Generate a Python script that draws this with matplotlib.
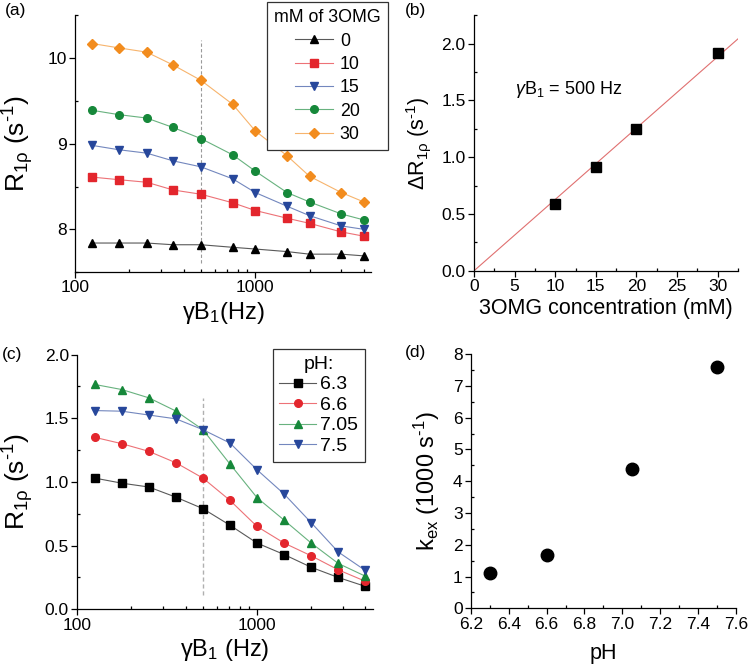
import matplotlib
matplotlib.use('Agg')
import matplotlib.pyplot as plt
from matplotlib.ticker import MultipleLocator, LogLocator, NullFormatter, FixedLocator, FixedFormatter
from matplotlib.colors import to_rgb
import numpy as np

plt.rcParams['font.family'] = ['Liberation Sans', 'DejaVu Sans']
plt.rcParams['mathtext.fontset'] = 'custom'
plt.rcParams['mathtext.rm'] = 'Liberation Sans'
plt.rcParams['mathtext.it'] = 'Liberation Sans:italic'
plt.rcParams['mathtext.default'] = 'regular'

# (a) R1rho vs spin-lock amplitude for several 3OMG concentrations
freq_a = [125, 175, 250, 350, 500, 750, 1000, 1500, 2000, 3000, 4000]
conc_labels = ['0', '10', '15', '20', '30']
r1rho_0 = [7.84, 7.84, 7.84, 7.82, 7.82, 7.79, 7.77, 7.74, 7.71, 7.71, 7.69]
r1rho_10 = [8.61, 8.58, 8.55, 8.46, 8.41, 8.31, 8.22, 8.13, 8.07, 7.97, 7.92]
r1rho_15 = [8.98, 8.93, 8.89, 8.80, 8.73, 8.59, 8.43, 8.27, 8.16, 8.04, 8.00]
r1rho_20 = [9.39, 9.34, 9.30, 9.19, 9.06, 8.87, 8.68, 8.43, 8.32, 8.18, 8.11]
r1rho_30 = [10.17, 10.12, 10.07, 9.92, 9.74, 9.46, 9.15, 8.86, 8.62, 8.43, 8.32]

# (b) delta R1rho at 500 Hz
conc_b = [10, 15, 20, 30]
delta_r1rho = [0.59, 0.91, 1.25, 1.92]

# (c) R1rho vs spin-lock amplitude for several pH
freq_c = [125, 177, 250, 354, 500, 707, 1000, 1414, 2000, 2828, 4000]
ph_labels = ['6.3', '6.6', '7.05', '7.5']
r1rho_ph63 = [1.03, 0.99, 0.96, 0.88, 0.79, 0.66, 0.52, 0.43, 0.33, 0.25, 0.18]
r1rho_ph66 = [1.35, 1.30, 1.24, 1.15, 1.03, 0.855, 0.65, 0.52, 0.42, 0.31, 0.22]
r1rho_ph705 = [1.765, 1.725, 1.66, 1.556, 1.41, 1.14, 0.876, 0.70, 0.52, 0.36, 0.26]
r1rho_ph75 = [1.56, 1.555, 1.525, 1.495, 1.41, 1.305, 1.095, 0.905, 0.68, 0.45, 0.305]

# (d) exchange rate vs pH
ph_d = [6.3, 6.6, 7.05, 7.5]
kex = [1.10, 1.68, 4.39, 7.60]

c_black = '#000000'
c_red = '#e3262d'
c_blue = '#27479b'
c_green = '#16883a'
c_orange = '#f28c1e'


def lighter(col, f=0.35):
    # blend a colour with white, used for the thin connecting lines
    r, g, b = to_rgb(col)
    return (r + (1 - r) * f, g + (1 - g) * f, b + (1 - b) * f)


def style_axes(ax):
    for s in ['top', 'right']:
        ax.spines[s].set_visible(False)
    for s in ['left', 'bottom']:
        ax.spines[s].set_linewidth(0.9)
    ax.tick_params(which='major', direction='out', length=4, width=0.9,
                   labelsize=12.5, pad=2)
    ax.tick_params(which='minor', direction='in', length=2.5, width=0.9)


def style_log_x(ax):
    ax.set_xscale('log')
    ax.set_xlim(100, 4400)
    ax.xaxis.set_major_locator(FixedLocator([100, 1000]))
    ax.xaxis.set_major_formatter(FixedFormatter(['100', '1000']))
    ax.xaxis.set_minor_locator(LogLocator(base=10, subs=np.arange(2, 10)))
    ax.xaxis.set_minor_formatter(NullFormatter())


fig = plt.figure(figsize=(7.5, 6.67), dpi=100)

ax_a = fig.add_axes([0.1, 0.592, 0.395, 0.385])
ax_b = fig.add_axes([0.632, 0.594, 0.352, 0.383])
ax_c = fig.add_axes([0.103, 0.0865, 0.394, 0.382])
ax_d = fig.add_axes([0.628, 0.088, 0.353, 0.381])

lw = 0.8
ms = 5.5
inv_s = r'(s$^{\text{-}1}$)'

# ---- (a)
series_a = [(r1rho_0, c_black, '^'), (r1rho_10, c_red, 's'), (r1rho_15, c_blue, 'v'),
            (r1rho_20, c_green, 'o'), (r1rho_30, c_orange, 'D')]
ax_a.vlines(500, 7.61, 10.21, colors='#9a9a9a', linestyles=(0, (3, 2)), lw=0.8)
for (vals, col, mk), lab in zip(series_a, conc_labels):
    ax_a.plot(freq_a, vals, color=lighter(col), lw=lw, marker=mk,
              ms=ms if mk != 'D' else 5, mfc=col, mec=col, label=lab)
style_log_x(ax_a)
ax_a.set_ylim(7.5, 10.5)
ax_a.yaxis.set_major_locator(MultipleLocator(1))
ax_a.yaxis.set_minor_locator(MultipleLocator(0.5))
style_axes(ax_a)
ax_a.set_xlabel('γB$_1$(Hz)', fontsize=17, labelpad=3)
ax_a.set_ylabel('R$_{1ρ}$ ' + inv_s, fontsize=19, labelpad=8)
leg_a = ax_a.legend(title='mM of 3OMG', loc='upper right',
                    bbox_to_anchor=(388 / 750, 1 - 2 / 667),
                    bbox_transform=fig.transFigure, borderaxespad=0,
                    fontsize=12.8, title_fontsize=12.8, fancybox=False,
                    framealpha=1, edgecolor='#333333', handlelength=2.1,
                    labelspacing=0.36, borderpad=0.4, handletextpad=0.4)
leg_a.get_frame().set_linewidth(0.9)

# ---- (b)
slope = np.sum(np.array(conc_b) * np.array(delta_r1rho)) / np.sum(np.array(conc_b) ** 2)
xfit = np.array([0, 32.5])
ax_b.plot(xfit, slope * xfit, color='#e07070', lw=0.8, zorder=1)
ax_b.plot(conc_b, delta_r1rho, ls='none', marker='s', ms=7, color='black', zorder=2)
ax_b.set_xlim(0, 32.5)
ax_b.set_ylim(0, 2.25)
ax_b.xaxis.set_major_locator(MultipleLocator(5))
ax_b.xaxis.set_minor_locator(MultipleLocator(2.5))
ax_b.yaxis.set_major_locator(MultipleLocator(0.5))
ax_b.yaxis.set_minor_locator(MultipleLocator(0.25))
ax_b.yaxis.set_major_formatter(matplotlib.ticker.FormatStrFormatter('%.1f'))
style_axes(ax_b)
ax_b.set_xlabel('3OMG concentration (mM)', fontsize=15.5, labelpad=3)
ax_b.set_ylabel('ΔR$_{1ρ}$ ' + inv_s, fontsize=15.5, labelpad=6)
ax_b.text(5.0, 1.6, r'$\mathit{\gamma}$B$_1$ = 500 Hz', fontsize=13, va='center', ha='left')

# ---- (c)
series_c = [(r1rho_ph63, c_black, 's'), (r1rho_ph66, c_red, 'o'),
            (r1rho_ph705, c_green, '^'), (r1rho_ph75, c_blue, 'v')]
ax_c.vlines(500, 0.11, 1.66, colors='#b0b0b0', linestyles=(0, (3, 2)), lw=1.0)
for (vals, col, mk), lab in zip(series_c, ph_labels):
    ax_c.plot(freq_c, vals, color=lighter(col), lw=lw, marker=mk, ms=ms,
              mfc=col, mec=col, label=lab)
style_log_x(ax_c)
ax_c.set_ylim(0, 2.0)
ax_c.yaxis.set_major_locator(MultipleLocator(0.5))
ax_c.yaxis.set_minor_locator(MultipleLocator(0.25))
ax_c.yaxis.set_major_formatter(matplotlib.ticker.FormatStrFormatter('%.1f'))
style_axes(ax_c)
ax_c.set_xlabel('γB$_1$ (Hz)', fontsize=17, labelpad=3)
ax_c.set_ylabel('R$_{1ρ}$ ' + inv_s, fontsize=19, labelpad=6)
leg_c = ax_c.legend(title='pH:', loc='upper right',
                    bbox_to_anchor=(365 / 750, 1 - 349 / 667),
                    bbox_transform=fig.transFigure, borderaxespad=0,
                    fontsize=14, title_fontsize=14, fancybox=False,
                    framealpha=1, edgecolor='#333333', handlelength=1.9,
                    labelspacing=0.15, borderpad=0.35, handletextpad=0.2)
leg_c.get_frame().set_linewidth(0.9)

# ---- (d)
ax_d.plot(ph_d, kex, ls='none', marker='o', ms=9, color='black')
ax_d.set_xlim(6.2, 7.6)
ax_d.set_ylim(0, 8)
ax_d.xaxis.set_major_locator(MultipleLocator(0.2))
ax_d.xaxis.set_minor_locator(MultipleLocator(0.1))
ax_d.xaxis.set_major_formatter(matplotlib.ticker.FormatStrFormatter('%.1f'))
ax_d.yaxis.set_major_locator(MultipleLocator(1))
ax_d.yaxis.set_minor_locator(MultipleLocator(0.5))
style_axes(ax_d)
ax_d.set_xlabel('pH', fontsize=15.5, labelpad=8)
ax_d.set_ylabel('k$_{ex}$ (1000 s$^{\\text{-}1}$)', fontsize=17, labelpad=8)

# panel letters
fig.text(5 / 750, 1 - 10 / 667, '(a)', fontsize=12.5, va='center', ha='left')
fig.text(405 / 750, 1 - 10 / 667, '(b)', fontsize=12.5, va='center', ha='left')
fig.text(2 / 750, 1 - 355 / 667, '(c)', fontsize=12.5, va='center', ha='left')
fig.text(405 / 750, 1 - 353 / 667, '(d)', fontsize=12.5, va='center', ha='left')

fig.savefig('out.png', dpi=100)
